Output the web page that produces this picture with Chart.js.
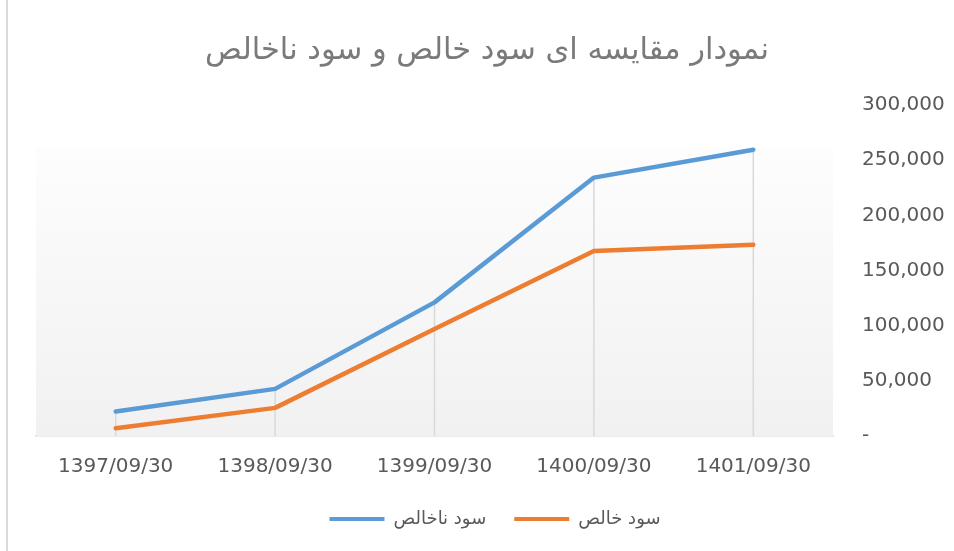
<!DOCTYPE html>
<html>
<head>
<meta charset="utf-8">
<script src="https://cdn.jsdelivr.net/npm/chart.js@4"></script>
<style>
html,body{margin:0;padding:0;background:#fff;}
#wrap{width:954px;height:551px;position:relative;}
</style>
</head>
<body>
<div id="wrap"><canvas id="c" width="954" height="551"></canvas></div>
<script>
const chartTitle = 'نمودار مقایسه ای سود خالص و سود ناخالص';
const categories = ['1397/09/30', '1398/09/30', '1399/09/30', '1400/09/30', '1401/09/30'];
const grossLabel = 'سود ناخالص';
const grossProfit = [22200, 42700, 121100, 234200, 259500];
const netLabel = 'سود خالص';
const netProfit = [7100, 25500, 97000, 167600, 173300];
const yTicks = [0, 50000, 100000, 150000, 200000, 250000, 300000];

const FONT = 'DejaVu Sans';
const TXT = '#595959';

const bgPlugin = {
  id: 'plotBg',
  afterLayout(chart) {
    if (chart.titleBlock) chart.titleBlock.left = 20;
  },
  beforeDatasetsDraw(chart) {
    const {ctx, chartArea: a} = chart;
    const g = ctx.createLinearGradient(0, a.top, 0, a.bottom);
    g.addColorStop(0, '#ffffff');
    g.addColorStop(0.128, '#ffffff');
    g.addColorStop(0.13, '#fdfdfd');
    g.addColorStop(1, '#f1f1f1');
    ctx.save();
    ctx.fillStyle = g;
    ctx.fillRect(a.left, a.top, a.right - a.left, a.bottom - a.top);
    const metas = chart.getSortedVisibleDatasetMetas();
    const n = categories.length;
    ctx.strokeStyle = '#d9d9d9';
    ctx.lineWidth = 1.5;
    for (let i = 0; i < n; i++) {
      let top = a.bottom, x = null;
      metas.forEach(m => {
        const p = m.data[i];
        if (p) { x = p.x; top = Math.min(top, p.y); }
      });
      if (x !== null) {
        ctx.beginPath();
        ctx.moveTo(x, a.bottom);
        ctx.lineTo(x, top);
        ctx.stroke();
      }
    }
    ctx.restore();
  },
  afterDraw(chart) {
    const {ctx} = chart;
    ctx.save();
    ctx.fillStyle = '#d9d9d9';
    ctx.fillRect(6, 0, 2, chart.height);
    ctx.restore();
  }
};

new Chart(document.getElementById('c'), {
  type: 'line',
  data: {
    labels: categories,
    datasets: [
      {label: grossLabel, data: grossProfit, borderColor: '#5b9bd5', backgroundColor: '#5b9bd5',
       borderWidth: 4.5, pointRadius: 0, tension: 0, borderCapStyle: 'round', borderJoinStyle: 'round'},
      {label: netLabel, data: netProfit, borderColor: '#ed7d31', backgroundColor: '#ed7d31',
       borderWidth: 4.5, pointRadius: 0, tension: 0, borderCapStyle: 'round', borderJoinStyle: 'round'}
    ]
  },
  options: {
    responsive: false,
    animation: false,
    layout: {padding: {left: 36, right: 0, top: 0, bottom: 13}},
    plugins: {
      tooltip: {enabled: false},
      title: {
        display: true, text: chartTitle, color: '#7a7a7a',
        font: {family: FONT, size: 30.5, weight: 'normal'},
        padding: {top: 33, bottom: 35.4}
      },
      legend: {
        position: 'bottom',
        labels: {
          color: TXT, font: {family: FONT, size: 18},
          boxWidth: 55, boxHeight: 4, padding: 28,
          generateLabels(chart) {
            const items = Chart.defaults.plugins.legend.labels.generateLabels(chart);
            items.forEach(it => { it.lineWidth = 0; });
            return items;
          }
        }
      }
    },
    scales: {
      x: {
        offset: true,
        grid: {display: false, drawTicks: false},
        border: {display: true, color: '#d9d9d9', width: 1.5},
        ticks: {color: TXT, font: {family: FONT, size: 20}, padding: 18.5, maxRotation: 0},
        afterFit(scale) { scale.height = 46; }
      },
      y: {
        position: 'right',
        min: 0, max: 300000,
        afterBuildTicks(scale) { scale.ticks = yTicks.map(v => ({value: v})); },
        afterFit(scale) { scale.width = 121; },
        grid: {display: false, drawTicks: false},
        border: {display: false},
        ticks: {
          color: TXT, font: {family: FONT, size: 20}, padding: 29, crossAlign: 'near',
          callback: v => v === 0 ? '-' : v.toLocaleString('en-US')
        }
      }
    }
  },
  plugins: [bgPlugin]
});
</script>
</body>
</html>
